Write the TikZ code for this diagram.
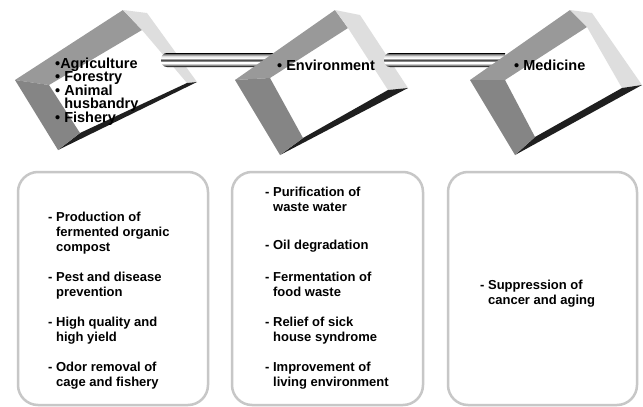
\documentclass[tikz,border=0pt]{standalone}
\usepackage{fontspec}
\setmainfont{Liberation Sans}
\pgfdeclareverticalshading{tubeshade}{100bp}{color(0bp)=(black); color(25bp)=(black); color(27.5bp)=(black!90); color(32bp)=(black!45); color(39bp)=(white); color(44.5bp)=(white); color(48bp)=(black!85); color(52bp)=(black!55); color(57bp)=(white); color(64bp)=(black!12); color(71.5bp)=(black!55); color(75bp)=(black); color(100bp)=(black)}
\newcommand{\tiltbox}[9]{%
  \fill[topface] #1 -- #2 -- #7 -- #6 -- cycle;
  \fill[lightface] #2 -- #3 -- #4 -- #8 -- #7 -- cycle;
  \fill[darkface] #4 -- #5 -- #9 -- #8 -- cycle;
  \fill[leftface] #1 -- #6 -- #9 -- #5 -- cycle;
}
\tikzset{
  topface/.style={fill=black!40},
  lightface/.style={fill=black!13},
  darkface/.style={fill=black!88},
  leftface/.style={fill=black!48},
  tube/.style={shading=tubeshade},
  panel/.style={draw=black!22, line width=2.5pt, rounded corners=20pt},
  cubetxt/.style={font=\bfseries\fontsize{14.5}{13.5}\selectfont, inner sep=0pt, anchor=base west},
  itemtxt/.style={font=\bfseries\fontsize{13}{15}\selectfont, inner sep=0pt, anchor=base west},
}
\begin{document}
\begin{tikzpicture}[x=1pt,y=-1pt]
\useasboundingbox (0,0) rectangle (643,407);
\fill[white] (0,0) rectangle (643,407);
% cube 1
\tiltbox{(15,80)}{(123,10)}{(147,13)}{(197,82)}{(58,150)}{(49,85)}{(142,30)}{(187,83)}{(80,133)}
\coordinate (c1r) at (162,60);
\coordinate (c2l) at (280,60);
\shade[tube] (167,53) -- (c2l |- 0,53) -- (c2l |- 0,67) -- (167,67) .. controls (159,67) and (159,53) .. (167,53) -- cycle;
% cube 2
\tiltbox{(235,80)}{(335,10)}{(360,15)}{(408,88)}{(280,155)}{(270,78)}{(348,28)}{(388,90)}{(303,138)}
\coordinate (c2r) at (385,60);
\coordinate (c3l) at (505,60);
\shade[tube] (390,53) -- (c3l |- 0,53) -- (c3l |- 0,67) -- (390,67) .. controls (382,67) and (382,53) .. (390,53) -- cycle;
% cube 3
\tiltbox{(470,80)}{(570,10)}{(592,13)}{(642,85)}{(515,155)}{(505,80)}{(587,27)}{(622,88)}{(535,137)}
% cube texts
\node[cubetxt] (agr) at (55,68) {•Agriculture};
\node[cubetxt] (for) at (55,81.5) {• Forestry};
\node[cubetxt] (ani) at (55,95) {• Animal};
\node[cubetxt] (hus) at (55,108.5) {\phantom{• }husbandry};
\node[cubetxt] (fis) at (55,122) {• Fishery};
\node[cubetxt] (env) at (277,70) {• Environment};
\node[cubetxt] (med) at (514,70) {• Medicine};
% panels
\draw[panel] (18,172) rectangle (208,405);
\draw[panel] (232,172) rectangle (423,405);
\draw[panel] (448,172) rectangle (637,405);
% panel 1
\node[itemtxt] (p1a) at (48,221.5) {- Production of};
\node[itemtxt] (p1b) at (48,236.5) {\phantom{- }fermented organic};
\node[itemtxt] (p1c) at (48,251.5) {\phantom{- }compost};
\node[itemtxt] (p1d) at (48,281.5) {- Pest and disease};
\node[itemtxt] (p1e) at (48,296.5) {\phantom{- }prevention};
\node[itemtxt] (p1f) at (48,326.5) {- High quality and};
\node[itemtxt] (p1g) at (48,341.5) {\phantom{- }high yield};
\node[itemtxt] (p1h) at (48,371.5) {- Odor removal of};
\node[itemtxt] (p1i) at (48,386.5) {\phantom{- }cage and fishery};
% panel 2
\node[itemtxt] (p2a) at (265,196.5) {- Purification of};
\node[itemtxt] (p2b) at (265,211.5) {\phantom{- }waste water};
\node[itemtxt] (p2c) at (265,249.5) {- Oil degradation};
\node[itemtxt] (p2d) at (265,281.5) {- Fermentation of};
\node[itemtxt] (p2e) at (265,296.5) {\phantom{- }food waste};
\node[itemtxt] (p2f) at (265,326.5) {- Relief of sick};
\node[itemtxt] (p2g) at (265,341.5) {\phantom{- }house syndrome};
\node[itemtxt] (p2h) at (265,371.5) {- Improvement of};
\node[itemtxt] (p2i) at (265,386.5) {\phantom{- }living environment};
% panel 3
\node[itemtxt] (p3a) at (480,289.5) {- Suppression of};
\node[itemtxt] (p3b) at (480,304.5) {\phantom{- }cancer and aging};
\end{tikzpicture}
\end{document}
